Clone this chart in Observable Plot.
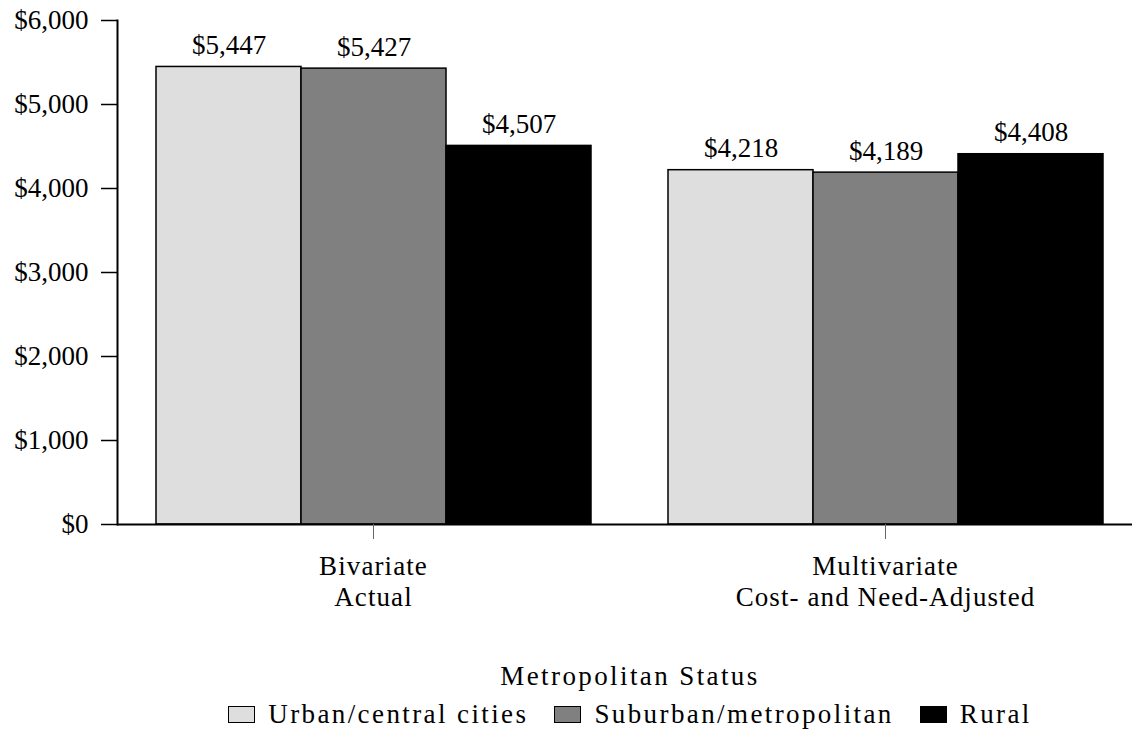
<!DOCTYPE html>
<html><head><meta charset="utf-8">
<script src="https://cdn.jsdelivr.net/npm/d3@7"></script>
<script src="https://cdn.jsdelivr.net/npm/@observablehq/plot@0.6"></script>
<style>
html,body{margin:0;padding:0;background:#fff;overflow:hidden;}
body{width:1132px;height:732px;font-family:"Liberation Serif","Times New Roman",serif;}
#legend{width:1004px;padding-left:128px;text-align:center;color:#000;font-size:27px;}
#legend .title{margin-top:20px;height:32px;line-height:32px;letter-spacing:2.4px;}
#legend .row{display:flex;justify-content:center;align-items:center;height:32px;line-height:32px;margin-top:6px;letter-spacing:2.4px;}
#legend .item{display:flex;align-items:center;margin:0 13px;}
#legend .sw{width:25px;height:15px;border:1.5px solid #000;margin-right:13px;}
[aria-label="fx-axis tick label"] text{letter-spacing:1.1px;}
</style>
</head><body>
<div id="chart"></div>
<div id="legend"></div>
<script>
const groups = ["Bivariate\nActual", "Multivariate\nCost- and Need-Adjusted"];
const series = ["Urban/central cities", "Suburban/metropolitan", "Rural"];
const urban = [5447, 4218];
const suburban = [5427, 4189];
const rural = [4507, 4408];
const colors = ["#dedede", "#808080", "#000000"];
const yTicks = [0, 1000, 2000, 3000, 4000, 5000, 6000];
const legendTitle = "Metropolitan Status";

const fmt = d3.format("$,");
const valuesBySeries = [urban, suburban, rural];
const data = groups.flatMap((g, i) => series.map((s, j) => ({group: g, series: s, value: valuesBySeries[j][i]})));

const chart = Plot.plot({
  width: 1141, height: 640,
  marginLeft: 117, marginRight: 0, marginTop: 20, marginBottom: 116,
  style: {fontFamily: '"Liberation Serif", "Times New Roman", serif', fontSize: "27px", background: "white", maxWidth: "none", color: "black"},
  fx: {domain: groups, paddingInner: 0, paddingOuter: 0, axis: null},
  x: {domain: series, paddingInner: 0, paddingOuter: 0.2615, axis: null},
  y: {domain: [0, 6000], axis: null},
  color: {domain: series, range: colors},
  marks: [
    Plot.barY(data, {fx: "group", x: "series", y: "value", fill: "series", stroke: "black", strokeWidth: 1.5}),
    Plot.text(data, {fx: "group", x: "series", y: "value", text: d => fmt(d.value), lineAnchor: "bottom", dy: -13, fill: "black"}),
    Plot.ruleY([0], {strokeWidth: 2}),
    Plot.frame({anchor: "left", facetAnchor: "left", strokeWidth: 2}),
    Plot.axisY({ticks: yTicks, tickFormat: fmt, tickSize: 16, tickPadding: 13, strokeWidth: 1.5, label: null, anchor: "left"}),
    Plot.axisFx({anchor: "bottom", tickSize: 15, tickPadding: 13, stroke: "#666", fill: "black", lineHeight: 1.15, label: null})
  ]
});
document.getElementById("chart").appendChild(chart);

const legend = document.getElementById("legend");
const title = document.createElement("div");
title.className = "title";
title.textContent = legendTitle;
legend.appendChild(title);
const row = document.createElement("div");
row.className = "row";
series.forEach((s, i) => {
  const item = document.createElement("div");
  item.className = "item";
  const sw = document.createElement("div");
  sw.className = "sw";
  sw.style.background = colors[i];
  const label = document.createElement("span");
  label.textContent = s;
  item.appendChild(sw);
  item.appendChild(label);
  row.appendChild(item);
});
legend.appendChild(row);
</script>
</body></html>
